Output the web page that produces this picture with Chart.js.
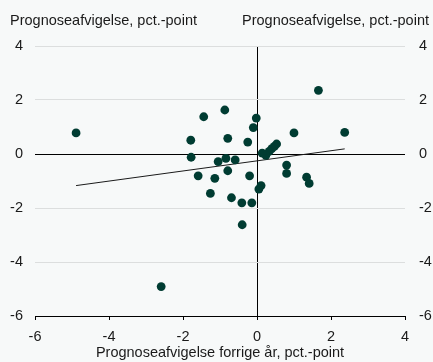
<!DOCTYPE html>
<html>
<head>
<meta charset="utf-8">
<script src="https://cdn.jsdelivr.net/npm/chart.js@4/dist/chart.umd.min.js"></script>
<style>
  html, body { margin: 0; padding: 0; background: #f7f9f9; }
  #wrap { position: relative; width: 433px; height: 362px; }
  canvas { position: absolute; left: 0; top: 0; }
  .ttl { position: absolute; top: 12px; font-family: "Liberation Sans", Arial, sans-serif; font-size: 14.5px; color: #1a1a1a; white-space: nowrap; }
</style>
</head>
<body>
<div id="wrap">
  <canvas id="c" width="433" height="362"></canvas>
  <div class="ttl" style="left:10px;">Prognoseafvigelse, pct.-point</div>
  <div class="ttl" style="right:4px;">Prognoseafvigelse, pct.-point</div>
</div>
<script>
const xTitle = "Prognoseafvigelse forrige år, pct.-point";
const yTicks = [-6, -4, -2, 0, 2, 4];
const xTicks = [-6, -4, -2, 0, 2, 4];

// Last year's forecast error (x) and this year's forecast error (y)
const prevErr = [-4.89, 1.66, 2.37, 1.00, -0.87, -1.44, -0.02, -0.10, -1.79, -0.79,
                 -0.25, 0.53, 0.47, 0.40, 0.33, 0.24, 0.14, -1.78, -0.84, -1.05,
                 -0.59, -0.79, -1.59, -1.14, -0.20, 0.80, 0.80, 1.34, 1.41, 0.11,
                 0.05, -1.26, -0.69, -0.41, -0.14, -0.40, -2.59];
const curErr  = [0.78, 2.36, 0.80, 0.78, 1.63, 1.38, 1.33, 0.98, 0.51, 0.58,
                 0.44, 0.37, 0.28, 0.20, 0.10, -0.05, 0.03, -0.12, -0.16, -0.28,
                 -0.22, -0.62, -0.81, -0.90, -0.81, -0.41, -0.72, -0.86, -1.09, -1.17,
                 -1.30, -1.46, -1.62, -1.81, -1.81, -2.62, -4.91];

// Trend line endpoints
const trendX = [-4.89, 2.37];
const trendY = [-1.17, 0.19];

const pts = prevErr.map((x, i) => ({ x: x, y: curErr[i] }));
const trend = trendX.map((x, i) => ({ x: x, y: trendY[i] }));

const FONT = { family: "'Liberation Sans', Arial, sans-serif", size: 14.5 };
const TXT = '#1a1a1a';

new Chart(document.getElementById('c'), {
  type: 'scatter',
  data: {
    datasets: [
      {
        type: 'line',
        data: trend,
        borderColor: '#1a1a1a',
        borderWidth: 1,
        pointRadius: 0,
        fill: false,
        order: 2
      },
      {
        data: pts,
        backgroundColor: '#003c32',
        borderColor: '#003c32',
        pointRadius: 4.4,
        pointHoverRadius: 4.4,
        borderWidth: 0,
        order: 1
      }
    ]
  },
  options: {
    responsive: false,
    animation: false,
    devicePixelRatio: 1,
    layout: { padding: { top: 46, bottom: 0, left: 0, right: 0 } },
    plugins: { legend: { display: false }, tooltip: { enabled: false } },
    scales: {
      x: {
        type: 'linear',
        min: -6, max: 4,
        afterBuildTicks: s => { s.ticks = xTicks.map(v => ({ value: v })); },
        afterFit: s => { s.height = 46; },
        ticks: { font: FONT, color: TXT, padding: 8, maxRotation: 0 },
        grid: {
          color: c => (c.tick && c.tick.value === 0) ? '#000' : 'rgba(0,0,0,0)',
          tickColor: '#000',
          tickLength: 4,
          lineWidth: 1
        },
        border: { display: true, color: '#000', width: 1 },
        title: { display: true, text: xTitle, font: FONT, color: TXT, padding: { top: 0, bottom: 0 } }
      },
      y: {
        type: 'linear',
        position: 'left',
        min: -6, max: 4,
        afterBuildTicks: s => { s.ticks = yTicks.map(v => ({ value: v })); },
        afterFit: s => { s.width = 35; },
        ticks: { font: FONT, color: TXT, padding: 12 },
        grid: {
          drawTicks: false,
          color: c => {
            const v = c.tick ? c.tick.value : null;
            if (v === 0) return '#000';
            if (v === -6) return 'rgba(0,0,0,0)';
            return '#dcdede';
          },
          lineWidth: 1
        },
        border: { display: false }
      },
      y2: {
        type: 'linear',
        position: 'right',
        min: -6, max: 4,
        afterBuildTicks: s => { s.ticks = yTicks.map(v => ({ value: v })); },
        afterFit: s => { s.width = 28; },
        ticks: { font: FONT, color: TXT, padding: 14 },
        grid: { drawOnChartArea: false, drawTicks: false },
        border: { display: false }
      }
    }
  }
});
</script>
</body>
</html>
